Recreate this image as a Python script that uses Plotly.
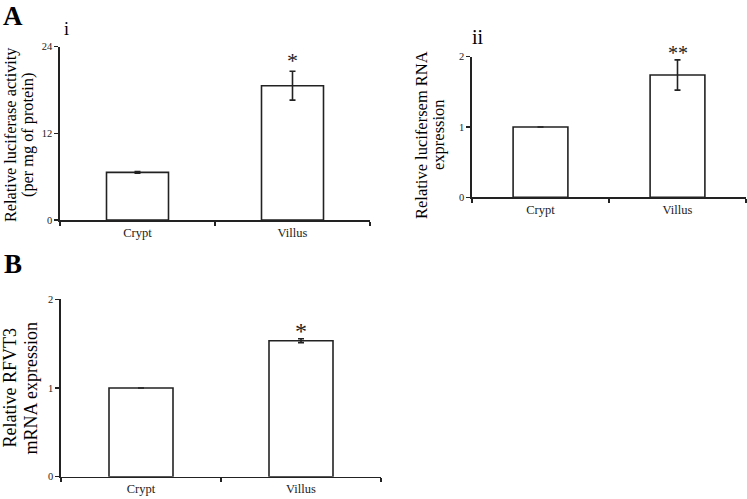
import plotly.graph_objects as go

W, H = 747, 499

categories = ["Crypt", "Villus"]

# Panel A i
ai_values = [6.6, 18.6]
ai_errors = [0.12, 2.0]
ai_ticks = [0, 12, 24]

# Panel A ii
aii_values = [1.0, 1.74]
aii_errors = [0.0, 0.215]
aii_ticks = [0, 1, 2]

# Panel B
b_values = [1.0, 1.533]
b_errors = [0.0, 0.022]
b_ticks = [0, 1, 2]

FONT = "Liberation Serif"
INK = "#222222"


def px_x(x):
    return x / W


def px_y(y):
    return 1 - y / H


fig = go.Figure()

panels = [
    ("x", "y", ai_values, ai_errors),
    ("x2", "y2", aii_values, aii_errors),
    ("x3", "y3", b_values, b_errors),
]
for xa, ya, vals, errs in panels:
    fig.add_trace(go.Bar(
        x=categories, y=vals, xaxis=xa, yaxis=ya, width=0.4,
        marker=dict(color="white", line=dict(color=INK, width=1.6)),
        error_y=dict(type="data", array=errs, visible=True,
                     color=INK, thickness=1.6, width=3),
        showlegend=False, hoverinfo="skip",
    ))


def xaxis_cfg(dom, anchor):
    return dict(domain=dom, anchor=anchor, type="category",
                range=[-0.5, 1.5], tickson="boundaries", automargin=False,
                ticks="outside", ticklen=4, tickwidth=1.5, tickcolor=INK,
                showline=True, linecolor=INK, linewidth=1.6,
                showgrid=False, zeroline=False,
                tickfont=dict(family=FONT, size=12.5, color=INK),
                fixedrange=True)


def yaxis_cfg(dom, anchor, rng, ticks):
    return dict(domain=dom, anchor=anchor, range=rng, tickvals=ticks,
                automargin=False,
                ticks="outside", ticklen=4, tickwidth=1.5, tickcolor=INK,
                showline=True, linecolor=INK, linewidth=1.6,
                showgrid=False, zeroline=False,
                tickfont=dict(family=FONT, size=10.5, color=INK),
                fixedrange=True)


fig.update_layout(
    template="none",
    width=W, height=H,
    margin=dict(l=0, r=0, t=0, b=0, pad=0, autoexpand=False),
    paper_bgcolor="white", plot_bgcolor="white",
    bargap=0,
    hovermode=False,
    xaxis=xaxis_cfg([px_x(60), px_x(370)], "y"),
    yaxis=yaxis_cfg([px_y(220), px_y(46.7)], "x", [0, 24], ai_ticks),
    xaxis2=xaxis_cfg([px_x(472), px_x(746)], "y2"),
    yaxis2=yaxis_cfg([px_y(197.3), px_y(56.7)], "x2", [0, 2], aii_ticks),
    xaxis3=xaxis_cfg([px_x(61), px_x(381)], "y3"),
    yaxis3=yaxis_cfg([px_y(476.7), px_y(299.3)], "x3", [0, 2], b_ticks),
)

ann = []


def paper_text(text, x, y, size, bold=False, angle=0):
    ann.append(dict(text=f"<b>{text}</b>" if bold else text,
                    x=px_x(x), y=px_y(y), xref="paper", yref="paper",
                    xanchor="center", yanchor="middle", showarrow=False,
                    textangle=angle,
                    font=dict(family=FONT, size=size, color="black")))


# panel labels
paper_text("A", 13, 16, 27, bold=True)
paper_text("i", 66, 29, 18)
paper_text("ii", 478, 37, 20)
paper_text("B", 13, 264, 27, bold=True)

# y titles
paper_text("Relative luciferase activity", 11, 135, 16.3, angle=-90)
paper_text("(per mg of protein)", 28, 135, 16.3, angle=-90)
paper_text("Relative lucifersem RNA", 422, 135, 16.5, angle=-90)
paper_text("expression", 439, 135, 16.5, angle=-90)
paper_text("Relative RFVT3", 9.5, 388, 18, angle=-90)
paper_text("mRNA expression", 30.5, 388, 18, angle=-90)

# significance marks
sig = [("x", "y", "*", ai_values, ai_errors, 22, -4),
       ("x2", "y2", "**", aii_values, aii_errors, 20, -6),
       ("x3", "y3", "*", b_values, b_errors, 24, -7)]
for xa, ya, txt, vals, errs, size, shift in sig:
    ann.append(dict(text=txt, x=categories[1], y=vals[1] + errs[1],
                    xref=xa, yref=ya, xanchor="center", yanchor="bottom",
                    yshift=shift, showarrow=False,
                    font=dict(family=FONT, size=size, color=INK)))

fig.update_layout(annotations=ann)

fig.write_html(
    "out.html",
    config={"displayModeBar": False, "staticPlot": True},
    post_script="document.body.style.margin='0';"
                "document.body.style.overflow='hidden';",
)
